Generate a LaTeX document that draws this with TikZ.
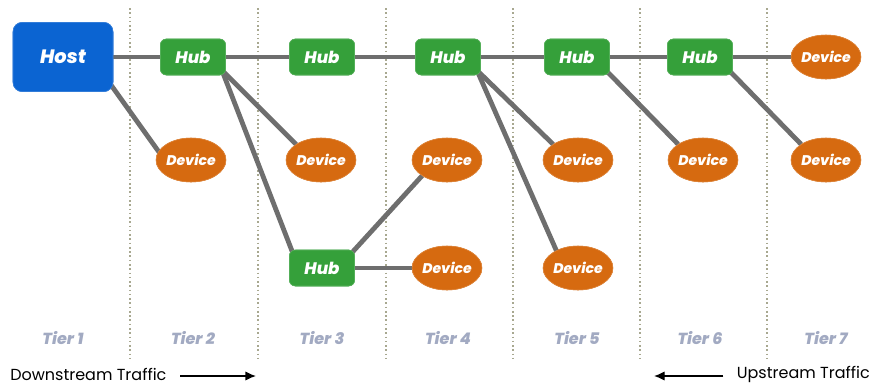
\documentclass[tikz,border=0pt]{standalone}
\usepackage{fontspec}
\setmainfont{Poppins}
\newfontfamily\heavyfont{Poppins ExtraBold Italic}
\usetikzlibrary{shapes.geometric,arrows.meta}
\definecolor{hostc}{HTML}{0B64D2}
\definecolor{hubc}{HTML}{35A03A}
\definecolor{devc}{HTML}{D66A10}
\definecolor{edgec}{HTML}{6E6E6E}
\definecolor{tierc}{HTML}{A2AAC2}
\definecolor{dotc}{HTML}{A8A890}
\tikzset{
  x=0.75pt, y=-0.75pt,
  hostbox/.style={draw=hostc!80!white, fill=hostc, rounded corners=7pt, minimum width=75pt, minimum height=52pt, text=white, font=\heavyfont\fontsize{14.5}{14.5}\selectfont, inner sep=0pt},
  hubbox/.style={draw=hubc!80!white, fill=hubc, rounded corners=4.5pt, minimum width=49pt, minimum height=27pt, text=white, font=\heavyfont\fontsize{12.5}{12.5}\selectfont, inner sep=0pt},
  devbox/.style={ellipse, draw=devc!80!white, fill=devc, minimum width=52pt, minimum height=33pt, text=white, font=\heavyfont\fontsize{10.5}{10.5}\selectfont, inner sep=0pt},
  tierlbl/.style={text=tierc, font=\heavyfont\fontsize{12}{12}\selectfont},
  link/.style={draw=edgec, line width=3.6pt},
  sep/.style={draw=dotc, line width=1.2pt, dotted},
  traffic/.style={font=\fontsize{12}{12}\selectfont, text=black, inner sep=0pt},
  trafarrow/.style={draw=black, line width=1pt, -{Latex[length=8pt,width=7pt]}}
}
\begin{document}
\begin{tikzpicture}
\useasboundingbox (0,0) rectangle (878,386);
\fill[white] (0,0) rectangle (878,386);
% separators
\foreach \xx in {130,258,386,513,640,767}
  \draw[sep] (\xx,8) -- (\xx,362);
% node positions (named)
\node[hostbox] (host) at (63,57) {Host};
\node[hubbox] (h1) at (193,57) {Hub};
\node[hubbox] (h2) at (322,57) {Hub};
\node[hubbox] (h3) at (448,57) {Hub};
\node[hubbox] (h4) at (577,57) {Hub};
\node[hubbox] (h5) at (700,57) {Hub};
\node[devbox] (d7a) at (826,57) {Device};
\node[devbox] (d2) at (191,160) {Device};
\node[devbox] (d3) at (321,160) {Device};
\node[devbox] (d4a) at (447,160) {Device};
\node[devbox] (d5a) at (578,160) {Device};
\node[devbox] (d6) at (703,160) {Device};
\node[devbox] (d7b) at (826,160) {Device};
\node[hubbox] (hb) at (322,268) {Hub};
\node[devbox] (d4b) at (447,268) {Device};
\node[devbox] (d5b) at (578,268) {Device};
% links
\path[link] (host.east) -- (h1.west);
\path[link] (h1.east) -- (h2.west);
\path[link] (h2.east) -- (h3.west);
\path[link] (h3.east) -- (h4.west);
\path[link] (h4.east) -- (h5.west);
\path[link] (h5.east) -- (d7a.west);
\path[link] ([shift={(-3,-8)}]host.south east) -- ([shift={(6,-4)}]d2.west);
\path[link] ([shift={(-4,-5)}]h1.south east) -- (d3.north west);
\path[link] ([shift={(-4,-5)}]h1.south east) -- ([shift={(4,4)}]hb.north west);
\path[link] ([shift={(-4,4)}]hb.north east) -- (d4a.south west);
\path[link] (hb.east) -- (d4b.west);
\path[link] ([shift={(-4,-5)}]h3.south east) -- (d5a.north west);
\path[link] ([shift={(-4,-5)}]h3.south east) -- ([shift={(4,0)}]d5b.north west);
\path[link] ([shift={(-4,-5)}]h4.south east) -- (d6.north west);
\path[link] ([shift={(-4,-5)}]h5.south east) -- (d7b.north west);
% redraw nodes on top of links
\node[hostbox] at (63,57) {Host};
\foreach \p in {(193,57),(322,57),(448,57),(577,57),(700,57),(322,268)}
  \node[hubbox] at \p {Hub};
\foreach \p in {(826,57),(191,160),(321,160),(447,160),(578,160),(703,160),(826,160),(447,268),(578,268)}
  \node[devbox] at \p {Device};
% tiers
\node[tierlbl] (t1) at (63,338) {Tier 1};
\node[tierlbl] (t2) at (193,338) {Tier 2};
\node[tierlbl] (t3) at (322,338) {Tier 3};
\node[tierlbl] (t4) at (448,338) {Tier 4};
\node[tierlbl] (t5) at (577,338) {Tier 5};
\node[tierlbl] (t6) at (700,338) {Tier 6};
\node[tierlbl] (t7) at (826,338) {Tier 7};
% traffic
\node[traffic, anchor=west] (down) at (10,374) {Downstream Traffic};
\coordinate (downend) at (256,376);
\draw[trafarrow] ([shift={(10pt,0)}]down.east |- downend) -- (downend);
\node[traffic, anchor=east] (up) at (870,374) {Upstream Traffic};
\coordinate (upend) at (654,376);
\draw[trafarrow] ([shift={(-10pt,0)}]up.west |- upend) -- (upend);
\end{tikzpicture}
\end{document}
